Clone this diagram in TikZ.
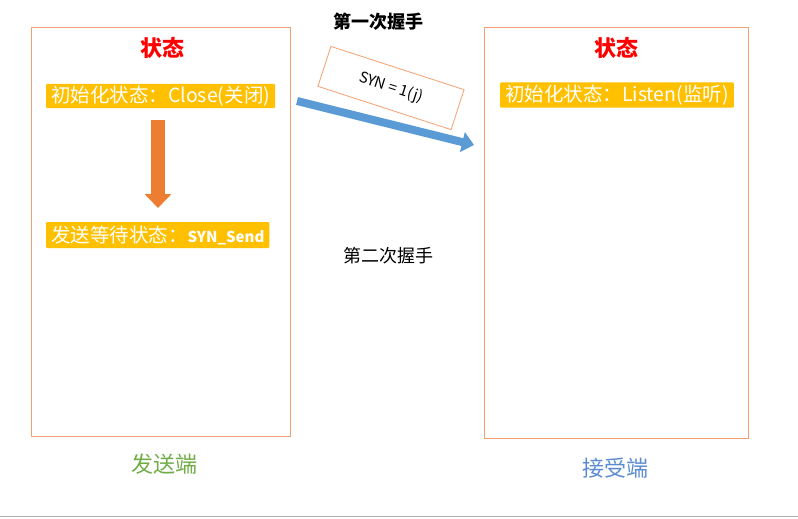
\documentclass[tikz,border=0pt]{standalone}
\usepackage{fontspec}
\setmainfont{Noto Sans CJK SC}
\usetikzlibrary{arrows.meta}
\definecolor{boxor}{HTML}{F4A070}
\definecolor{ylw}{HTML}{FFC000}
\definecolor{arrOr}{HTML}{ED7D31}
\definecolor{arrBl}{HTML}{5B9BD5}
\definecolor{grn}{HTML}{70AD47}
\definecolor{blu}{HTML}{5B8BD0}
\tikzset{
  panel/.style={draw=boxor,line width=0.8pt},
  tag/.style={fill=ylw,text=white,font=\fontsize{19.5}{21}\selectfont,inner xsep=5pt,inner ysep=1pt,anchor=west,rounded corners=1pt},
  head/.style={text=red,font=\fontsize{22}{24}\selectfont\bfseries},
  lbl/.style={font=\fontsize{22}{24}\selectfont}
}
\begin{document}
\begin{tikzpicture}[x=1pt,y=-1pt]
\useasboundingbox (0,0) rectangle (798,519);
\fill[white] (0,0) rectangle (798,519);
\draw[gray!60] (0,516) -- (798,516);
\node[panel,minimum width=259pt,minimum height=409pt,anchor=north west] (L) at (31,27) {};
\node[panel,minimum width=264pt,minimum height=411pt,anchor=north west] (R) at (484,27) {};
\node[head] (h1) at (162,48) {状态};
\node[head] (h2) at (616,48) {状态};
\node[tag,minimum height=24pt] (t1) at (46,96) {初始化状态：Close(关闭)};
\node[tag,minimum height=26pt] (t2) at (46,235) {发送等待状态：{\fontsize{15}{17}\selectfont\bfseries SYN\_Send}};
\node[tag,minimum height=25pt] (t3) at (500,95) {初始化状态：Listen(监听)};
\coordinate (a1) at (158,120);
\coordinate (a2) at (158,208);
\draw[arrOr,line width=14pt,-{Triangle[length=14pt,width=26pt]}] (a1) -- (a2);
\node[lbl,text=grn] (s) at (164,464) {发送端};
\node[lbl,text=blu] (r) at (615,468) {接受端};
\node[font=\fontsize{18}{20}\selectfont\bfseries] (f1) at (378,22) {第一次握手};
\node[font=\fontsize{18}{20}\selectfont] (f2) at (388,256) {第二次握手};
\node[draw=boxor,line width=0.8pt,fill=white,rotate=-18,minimum width=140pt,minimum height=42pt,font=\itshape\fontsize{15}{17}\selectfont] (syn) at (391,88) {SYN = 1(j)};
\coordinate (b1) at (297,101);
\coordinate (b2) at (474,145);
\draw[arrBl,line width=8pt,-{Triangle[length=12pt,width=20pt]}] (b1) -- (b2);
\end{tikzpicture}
\end{document}
